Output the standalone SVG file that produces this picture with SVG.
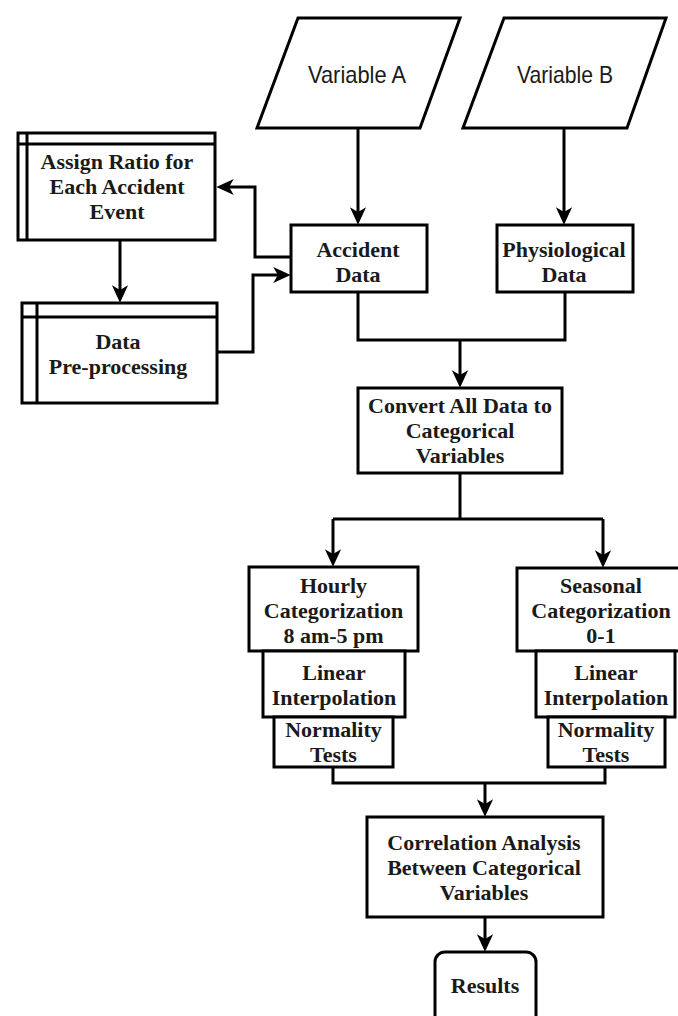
<svg xmlns="http://www.w3.org/2000/svg" width="678" height="1016" viewBox="0 0 678 1016">
<defs>
<style>
.box{fill:#fff;stroke:#000;stroke-width:3}
.ln{fill:none;stroke:#000;stroke-width:3}
.cn{fill:none;stroke:#000;stroke-width:3;marker-end:url(#arr)}
.t{font-family:"Liberation Serif","Times New Roman",serif;font-weight:bold;font-size:22px;text-anchor:middle;fill:#1a1a1a}
.s{font-family:"Liberation Sans",Arial,sans-serif;font-size:24px;text-anchor:middle;fill:#1a1a1a}
</style>
<marker id="arr" markerUnits="userSpaceOnUse" markerWidth="22" markerHeight="20" viewBox="-13 -8 19 16" refX="0" refY="0" orient="auto">
<path d="M-11,-7 L4,0 L-11,7 L-7,0 Z" fill="#000"/>
</marker>
</defs>
<rect width="678" height="1016" fill="#fff"/>

<g id="connectors">
<path class="cn" d="M358,128 V220"/>
<path class="cn" d="M564,128 V220"/>
<path class="cn" d="M291,257 H255 V187 H221"/>
<path class="cn" d="M120,240 V298"/>
<path class="cn" d="M217,352 H253 V275 H286"/>
<path class="ln" d="M358,292 V340 H565 V292"/>
<path class="cn" d="M460,340 V383"/>
<path class="ln" d="M460,473 V519"/>
<path class="ln" d="M333,519 H603"/>
<path class="cn" d="M333,519 V562"/>
<path class="cn" d="M603,519 V563"/>
<path class="ln" d="M333,767 V783 H605 V767"/>
<path class="cn" d="M485,783 V812"/>
<path class="cn" d="M485,917 V947"/>
</g>

<g id="varA">
<polygon class="box" points="298,18 460,18 420,128 257,128"/>
<text class="s" x="357" y="83" textLength="98" lengthAdjust="spacingAndGlyphs">Variable A</text>
</g>
<g id="varB">
<polygon class="box" points="504,18 666,18 627,128 463,128"/>
<text class="s" x="565" y="83" textLength="96" lengthAdjust="spacingAndGlyphs">Variable B</text>
</g>

<g id="assign">
<rect class="box" x="18" y="133" width="197" height="107"/>
<path class="ln" d="M27,133 V240 M18,144 H215"/>
<text class="t" x="117" y="169">Assign Ratio for</text>
<text class="t" x="117" y="194">Each Accident</text>
<text class="t" x="117" y="219">Event</text>
</g>

<g id="preprocessing">
<rect class="box" x="22" y="303" width="195" height="100"/>
<path class="ln" d="M37,303 V403 M22,317 H217"/>
<text class="t" x="118" y="349">Data</text>
<text class="t" x="118" y="374">Pre-processing</text>
</g>

<g id="accident">
<rect class="box" x="291" y="225" width="136" height="67"/>
<text class="t" x="358" y="257">Accident</text>
<text class="t" x="358" y="282">Data</text>
</g>

<g id="physio">
<rect class="box" x="497" y="225" width="136" height="67"/>
<text class="t" x="564" y="257">Physiological</text>
<text class="t" x="564" y="282">Data</text>
</g>

<g id="convert">
<rect class="box" x="358" y="388" width="204" height="85"/>
<text class="t" x="460" y="413">Convert All Data to</text>
<text class="t" x="460" y="438">Categorical</text>
<text class="t" x="460" y="463">Variables</text>
</g>

<g id="hourly">
<rect class="box" x="249" y="567" width="169" height="84"/>
<text class="t" x="333.5" y="593">Hourly</text>
<text class="t" x="333.5" y="618">Categorization</text>
<text class="t" x="333.5" y="643">8 am-5 pm</text>
</g>
<g id="linear1">
<rect class="box" x="263" y="651" width="142" height="66"/>
<text class="t" x="334" y="680">Linear</text>
<text class="t" x="334" y="705">Interpolation</text>
</g>
<g id="normal1">
<rect class="box" x="274" y="717" width="119" height="50"/>
<text class="t" x="333.5" y="737">Normality</text>
<text class="t" x="333.5" y="762">Tests</text>
</g>

<g id="seasonal">
<rect class="box" x="517" y="568" width="173" height="83"/>
<text class="t" x="601" y="593">Seasonal</text>
<text class="t" x="601" y="618">Categorization</text>
<text class="t" x="601" y="643">0-1</text>
</g>
<g id="linear2">
<rect class="box" x="536" y="651" width="139" height="66"/>
<text class="t" x="606" y="680">Linear</text>
<text class="t" x="606" y="705">Interpolation</text>
</g>
<g id="normal2">
<rect class="box" x="548" y="717" width="117" height="50"/>
<text class="t" x="606" y="737">Normality</text>
<text class="t" x="606" y="762">Tests</text>
</g>

<g id="correlation">
<rect class="box" x="367" y="817" width="236" height="100"/>
<text class="t" x="484" y="850">Correlation Analysis</text>
<text class="t" x="484" y="875">Between Categorical</text>
<text class="t" x="484" y="900">Variables</text>
</g>

<g id="results">
<rect class="box" x="435" y="952" width="101" height="76" rx="10" ry="10"/>
<text class="t" x="485" y="993">Results</text>
</g>
</svg>
